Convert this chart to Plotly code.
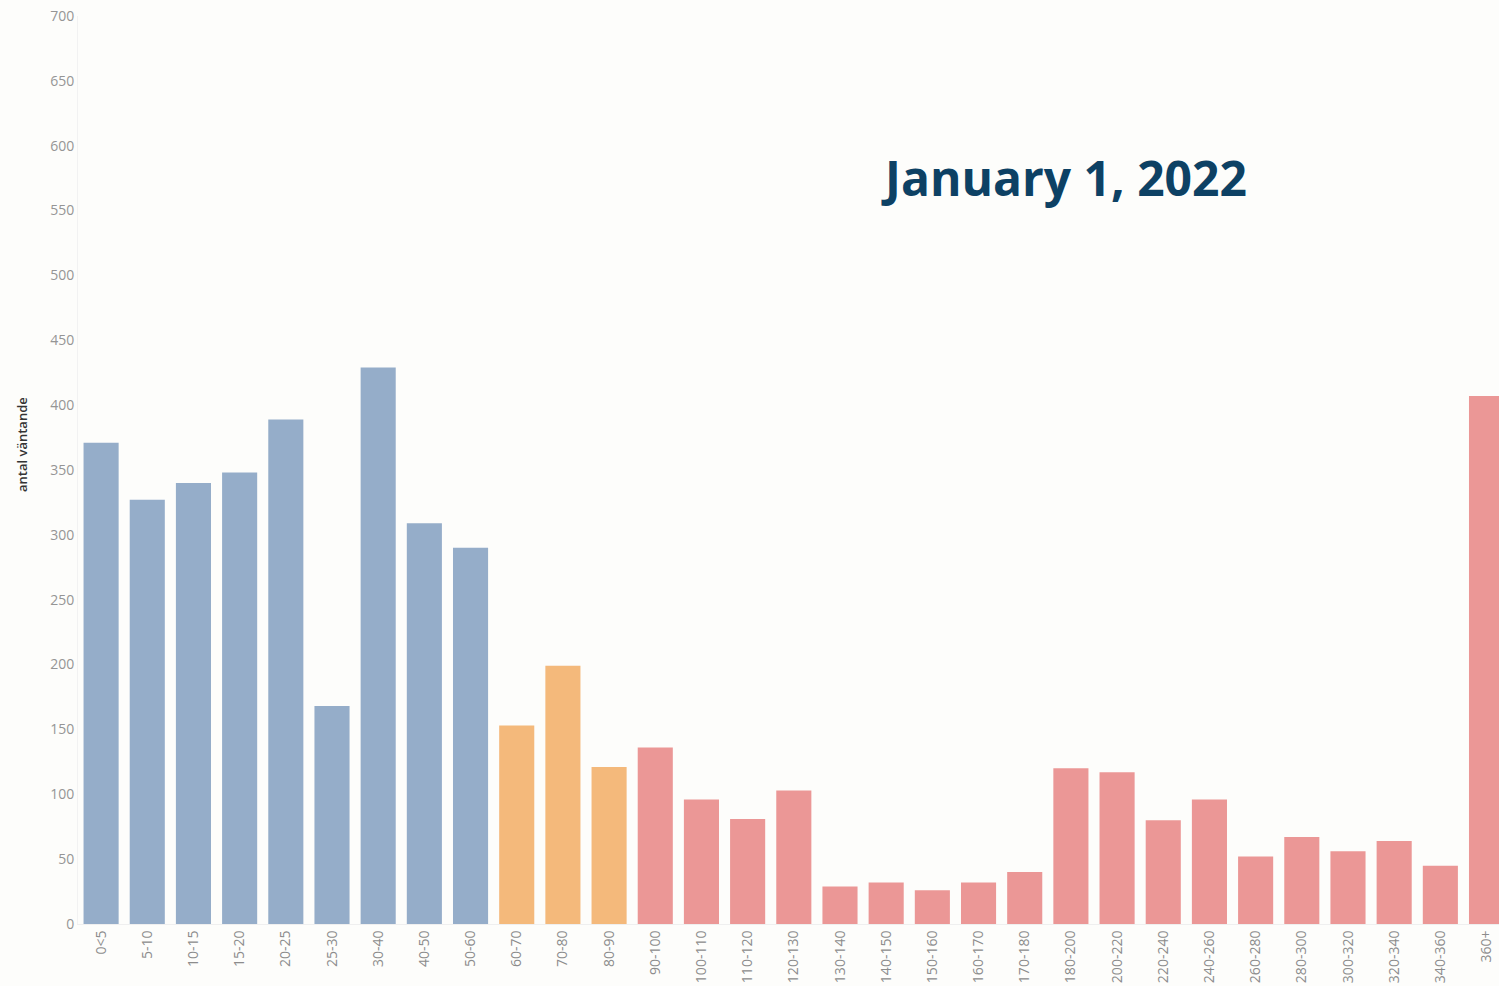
import plotly.graph_objects as go

categories = ["0<5", "5-10", "10-15", "15-20", "20-25", "25-30", "30-40", "40-50", "50-60",
              "60-70", "70-80", "80-90", "90-100", "100-110", "110-120", "120-130", "130-140",
              "140-150", "150-160", "160-170", "170-180", "180-200", "200-220", "220-240",
              "240-260", "260-280", "280-300", "300-320", "320-340", "340-360", "360+"]
values = [371, 327, 340, 348, 389, 168, 429, 309, 290,
          153, 199, 121,
          136, 96, 81, 103, 29, 32, 26, 32, 40, 120, 117, 80, 96, 52, 67, 56, 64, 45, 407]
groups = ["under60"] * 9 + ["60to90"] * 3 + ["over90"] * 19
group_colors = {"under60": "#95adc9", "60to90": "#f4b97b", "over90": "#eb9796"}
y_ticks = list(range(0, 701, 50))
title_text = "January 1, 2022"
y_title = "antal väntande"

bar_colors = [group_colors[g] for g in groups]

fig = go.Figure(go.Bar(
    x=categories, y=values, marker=dict(color=bar_colors, line=dict(width=0)),
    width=0.76, hoverinfo="x+y"))

bg = "#fdfdfb"
fig.update_layout(
    width=1499, height=986,
    margin=dict(l=78, r=0, t=16, b=62),
    paper_bgcolor=bg, plot_bgcolor=bg,
    font=dict(family="Open Sans, sans-serif", color="#8c8c8c", size=14),
    showlegend=False,
    xaxis=dict(type="category", range=[-0.5, 30.27], tickangle=-90,
               showgrid=False, zeroline=False, showline=True, linecolor="#efefef",
               ticks="", ticklabelstandoff=0, tickfont=dict(size=14, color="#8c8c8c")),
    yaxis=dict(range=[0, 700], tickvals=y_ticks, showgrid=False, zeroline=False,
               showline=True, linecolor="#f2f2f2", ticks="",
               tickfont=dict(size=14, color="#959595")),
    annotations=[
        dict(text="<b>" + title_text + "</b>", xref="paper", yref="paper",
             x=0.694, y=0.8216, xanchor="center", yanchor="middle",
             showarrow=False,
             font=dict(family="Open Sans, sans-serif", size=48, color="#0d4164")),
        dict(text=y_title, xref="paper", yref="paper", textangle=-90,
             x=(22 - 78) / 1421, y=(924 - 445) / 908, xanchor="center", yanchor="middle",
             showarrow=False,
             font=dict(family="Open Sans, sans-serif", size=13, color="#333333", weight=600)),
    ],
)

fig.write_html("out.html", config={"displayModeBar": False},
               post_script="document.body.style.margin='0';")
